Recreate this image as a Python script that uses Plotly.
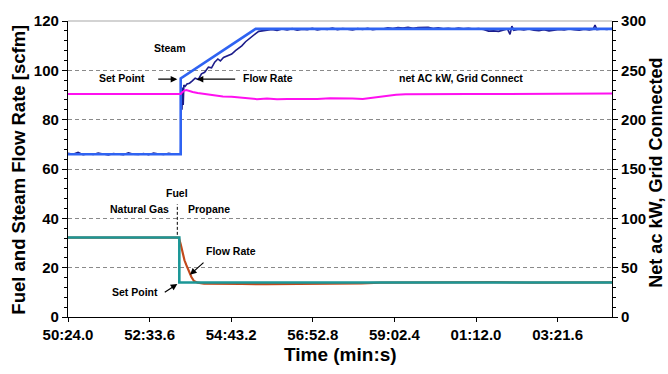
import plotly.graph_objects as go

# Time axis in seconds past the hour (50:24.0 = 3024 s); labels wrap at the hour
tick_seconds = [3024.0, 3153.6, 3283.2, 3412.8, 3542.4, 3672.0, 3801.6]
tick_labels = ["50:24.0", "52:33.6", "54:43.2", "56:52.8", "59:02.4", "01:12.0", "03:21.6"]

# Steam flow set point [scfm]
steam_sp_t = [3024, 3203, 3203, 3322, 3888]
steam_sp_v = [66.0, 66.0, 96.7, 116.8, 116.8]

# Measured steam flow rate [scfm]
steam_flow_t = [3024, 3032, 3040, 3048, 3056, 3064, 3072, 3080, 3088, 3096, 3104, 3112,
                3120, 3128, 3136, 3144, 3152, 3160, 3168, 3176, 3184, 3192, 3200, 3203,
                3204, 3205, 3206, 3207, 3208, 3210, 3213, 3217, 3221, 3226, 3231, 3236,
                3241, 3247, 3252, 3257, 3262, 3266, 3271, 3277, 3284, 3290, 3295, 3300,
                3306, 3311, 3316, 3322, 3327, 3332,
                3340, 3348, 3356, 3364, 3372, 3380, 3388, 3396, 3404, 3412, 3420, 3428,
                3436, 3444, 3452, 3460, 3468, 3476, 3484, 3492, 3500, 3508, 3516, 3524,
                3532, 3540, 3548, 3556, 3564, 3572, 3580, 3588, 3596, 3604, 3612, 3620,
                3628, 3636, 3644, 3652, 3660, 3668, 3676, 3684, 3692, 3700, 3708, 3716,
                3722, 3726, 3729, 3732, 3740, 3748, 3756, 3764, 3772, 3780, 3788, 3796,
                3804, 3812, 3820, 3828, 3836, 3844, 3852, 3858, 3861, 3864, 3872, 3880, 3888]
steam_flow_v = [66.4, 66.0, 66.7, 65.8, 66.2, 65.9, 66.5, 66.1, 65.7, 66.3, 66.0, 65.8,
                66.6, 66.0, 65.9, 66.3, 65.8, 66.5, 66.1, 65.9, 66.4, 66.0, 66.2, 66.1,
                91.0, 84.0, 93.0, 86.0, 94.0, 93.5, 94.5, 94.8, 95.6, 96.8, 96.3, 98.6,
                99.2, 101.3, 101.0, 103.3, 104.6, 103.8, 105.2, 105.8, 106.6, 108.0, 108.8, 109.9,
                111.6, 112.7, 113.8, 114.9, 115.8, 116.0,
                116.3, 116.6, 116.2, 116.8, 116.4, 116.9, 116.3, 116.7, 116.5, 117.0, 116.4, 116.8,
                116.6, 117.1, 116.5, 116.9, 116.7, 116.4, 116.9, 116.6, 117.0, 116.5, 116.8, 116.7,
                117.2, 116.9, 117.3, 117.1, 117.4, 117.0, 117.3, 117.2, 117.4, 116.9, 117.2, 116.8,
                117.0, 116.7, 117.1, 116.8, 117.0, 116.7, 116.9, 116.6, 115.9, 116.0, 115.8, 116.4,
                116.8, 114.6, 117.9, 116.2, 116.7, 116.4, 116.8, 116.3, 116.1, 116.5, 116.0, 116.3,
                116.6, 116.4, 116.8, 116.5, 116.3, 116.7, 116.4, 116.6, 118.4, 116.5, 116.8, 116.6, 116.9]

# Net AC power, grid connected [kW]
net_kw_t = [3024, 3060, 3100, 3140, 3180, 3203, 3205, 3209, 3212, 3216, 3222, 3230, 3240,
            3250, 3260, 3270, 3284, 3300, 3312, 3324, 3340, 3356, 3372, 3388, 3404, 3420,
            3440, 3460, 3476, 3492, 3504, 3515, 3530, 3545, 3560, 3580, 3620, 3660, 3700,
            3740, 3780, 3820, 3860, 3888]
net_kw_v = [226.0, 225.8, 226.1, 225.9, 226.0, 226.0, 227.5, 229.5, 230.0, 229.0, 228.0, 227.0, 226.0,
            225.0, 224.2, 223.5, 223.2, 222.0, 221.0, 220.8, 221.5, 220.6, 221.0, 220.8, 221.3, 221.0,
            221.6, 221.8, 221.5, 221.0, 222.0, 223.5, 224.8, 225.3, 225.8, 226.0, 225.8, 226.1, 226.0,
            226.2, 226.0, 226.3, 226.2, 226.4]

# Fuel flow set point [scfm]: natural gas, then propane
fuel_sp_t = [3024, 3200.8, 3200.8, 3888]
fuel_sp_v = [32.2, 32.2, 14.0, 14.0]

# Measured fuel flow rate [scfm]
fuel_flow_t = [3024, 3200, 3203, 3206, 3209, 3212, 3216, 3220, 3224, 3230, 3240, 3270, 3300,
               3340, 3380, 3420, 3460, 3490, 3520, 3580, 3640, 3700, 3760, 3820, 3888]
fuel_flow_v = [32.2, 32.2, 29.5, 25.5, 23.0, 21.0, 18.5, 16.2, 14.6, 13.9, 13.5, 13.3, 13.4,
               13.3, 13.4, 13.3, 13.4, 13.6, 13.9, 14.0, 13.9, 14.1, 13.9, 14.0, 14.0]

BLACK = "#000000"
FONT = "Arial"

fig = go.Figure()
fig.add_trace(go.Scatter(x=steam_flow_t, y=steam_flow_v, mode="lines",
                         line=dict(color="#1c1c8a", width=1.6), name="Steam flow"))
fig.add_trace(go.Scatter(x=steam_sp_t, y=steam_sp_v, mode="lines",
                         line=dict(color="#2f63f2", width=2.6), name="Steam set point"))
fig.add_trace(go.Scatter(x=fuel_flow_t, y=fuel_flow_v, mode="lines",
                         line=dict(color="#c24a1c", width=2.2), name="Fuel flow"))
fig.add_trace(go.Scatter(x=fuel_sp_t, y=fuel_sp_v, mode="lines",
                         line=dict(color="#1b9797", width=2.6), name="Fuel set point"))
fig.add_trace(go.Scatter(x=net_kw_t, y=net_kw_v, mode="lines", yaxis="y2",
                         line=dict(color="#ff10f0", width=2.0), name="net AC kW"))

ann_font = dict(family=FONT, size=10.5, color=BLACK, weight="bold")
labels = [
    ("Steam", 3186, 109.2),
    ("Set Point", 3109, 96.8),
    ("Flow Rate", 3342, 96.8),
    ("net AC kW, Grid Connect", 3648, 96.8),
    ("Fuel", 3197, 50.4),
    ("Natural Gas", 3138, 43.8),
    ("Propane", 3248, 43.8),
    ("Flow Rate", 3283, 26.6),
    ("Set Point", 3130, 10.0),
]
annotations = [dict(text=t, x=x, y=y, xref="x", yref="y", showarrow=False,
                    xanchor="center", yanchor="middle", font=ann_font)
               for t, x, y in labels]

# Arrows: (head x, head y, tail x, tail y)
arrows = [
    (3197.6, 96.4, 3164.9, 96.4),
    (3228.4, 96.4, 3291.9, 96.4),
    (3217.7, 17.1, 3241.6, 22.6),
    (3197.6, 13.4, 3175.3, 9.6),
]
for hx, hy, tx, ty in arrows:
    annotations.append(dict(text="", x=hx, y=hy, ax=tx, ay=ty, xref="x", yref="y",
                            axref="x", ayref="y", showarrow=True, arrowhead=2,
                            arrowsize=1.1, arrowwidth=1.2, arrowcolor=BLACK))

title_font = dict(family=FONT, size=18.5, color=BLACK, weight="bold")
annotations += [
    dict(text="Fuel and Steam Flow Rate [scfm]", x=-0.090, y=0.498, xref="paper", yref="paper",
         textangle=-90, showarrow=False, xanchor="center", yanchor="middle", font=title_font),
    dict(text="Net ac kW, Grid Connected", x=1.0805, y=0.487, xref="paper", yref="paper",
         textangle=-90, showarrow=False, xanchor="center", yanchor="middle",
         font=dict(family=FONT, size=18, color=BLACK, weight="bold")),
    dict(text="Time (min:s)", x=0.5, y=-0.125, xref="paper", yref="paper",
         showarrow=False, xanchor="center", yanchor="middle",
         font=dict(family=FONT, size=19, color=BLACK, weight="bold")),
]

shapes = [
    # fuel changeover marker
    dict(type="line", x0=3197.6, x1=3197.6, y0=33.3, y1=45.7, xref="x", yref="y",
         line=dict(color=BLACK, width=1, dash="3px,2px")),
    # top border of the plot area
    dict(type="line", x0=0, x1=1, y0=1, y1=1, xref="paper", yref="paper",
         line=dict(color="#a8a8a8", width=1.2)),
]

tick_font = dict(family=FONT, size=15, color=BLACK, weight="bold")
fig.update_layout(
    width=668, height=374,
    margin=dict(l=68, r=56.3, t=14, b=57),
    paper_bgcolor="white", plot_bgcolor="white",
    showlegend=False,
    annotations=annotations,
    shapes=shapes,
    xaxis=dict(range=[3024, 3888], tickvals=tick_seconds, ticktext=tick_labels,
               showgrid=False, zeroline=False, showline=True, linecolor=BLACK, linewidth=1.2,
               ticks="outside", ticklen=4, tickcolor=BLACK, tickfont=tick_font),
    yaxis=dict(range=[0, 120], dtick=20, showgrid=True, gridcolor="#8a8a8a", gridwidth=1,
               griddash="4px,3px", zeroline=False, showline=True, linecolor=BLACK, linewidth=1.2,
               ticks="outside", ticklen=5, tickcolor=BLACK, tickfont=tick_font,
               minor=dict(dtick=4, ticks="outside", ticklen=3, tickcolor=BLACK, showgrid=False)),
    yaxis2=dict(range=[0, 300], dtick=50, overlaying="y", side="right", showgrid=False,
                zeroline=False, showline=True, linecolor=BLACK, linewidth=1.2,
                ticks="outside", ticklen=5, tickcolor=BLACK, tickfont=tick_font,
                minor=dict(dtick=10, ticks="outside", ticklen=3, tickcolor=BLACK)),
)

fig.write_html("out.html")
